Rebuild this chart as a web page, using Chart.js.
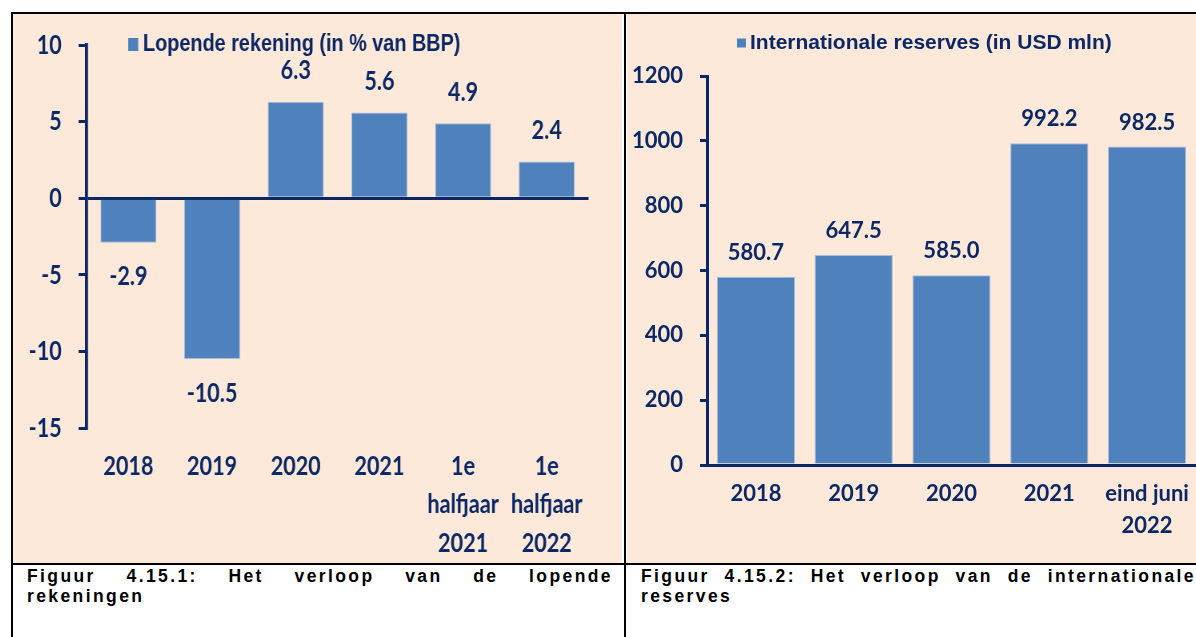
<!DOCTYPE html>
<html>
<head>
<meta charset="utf-8">
<script src="https://cdn.jsdelivr.net/npm/chart.js@4.4.1/dist/chart.umd.min.js"></script>
<style>
  html, body { margin:0; padding:0; background:#fff; width:1196px; height:637px; overflow:hidden; position:relative; }
  .ln { position:absolute; background:#000; }
  .panel { position:absolute; background:#FDE9D9; }
  .cap { position:absolute; font-family:"Liberation Sans", Arial, sans-serif; font-weight:bold; color:#000; line-height:20px; font-size:17.5px; letter-spacing:2.4px; }
  .cap .l1 { display:flex; justify-content:space-between; white-space:nowrap; }
</style>
</head>
<body>
<div class="panel" style="left:13px;top:14px;width:609px;height:549px"></div>
<div class="panel" style="left:627px;top:14px;width:600px;height:549px"></div>
<div class="ln" style="left:11px;top:12px;width:1200px;height:2px"></div>
<div class="ln" style="left:11px;top:12px;width:2px;height:630px"></div>
<div class="ln" style="left:624px;top:12px;width:2px;height:630px"></div>
<div class="ln" style="left:11px;top:563px;width:1200px;height:2px"></div>

<div style="position:absolute;left:13px;top:15px;width:761px;height:547px;transform:scaleX(0.8);transform-origin:0 0">
  <canvas id="c1" width="761" height="547"></canvas>
</div>
<div style="position:absolute;left:627px;top:15px;width:620px;height:547px">
  <canvas id="c2" width="620" height="547"></canvas>
</div>

<div class="cap" style="left:27px;top:566px;width:586px">
  <div class="l1"><span>Figuur</span><span>4.15.1:</span><span>Het</span><span>verloop</span><span>van</span><span>de</span><span>lopende</span></div>
  <div>rekeningen</div>
</div>
<div class="cap" style="left:641px;top:566px;width:555px">
  <div class="l1"><span>Figuur</span><span>4.15.2:</span><span>Het</span><span>verloop</span><span>van</span><span>de</span><span>internationale</span></div>
  <div>reserves</div>
</div>

<script>
// ---- data ----
const leftCategories = ['2018', '2019', '2020', '2021', ['1e', 'halfjaar', '2021'], ['1e', 'halfjaar', '2022']];
const leftValues = [-2.9, -10.5, 6.3, 5.6, 4.9, 2.4];
const leftSeriesName = 'Lopende rekening (in % van BBP)';
const leftYTicks = [-15, -10, -5, 0, 5, 10];

const rightCategories = ['2018', '2019', '2020', '2021', ['eind juni', '2022']];
const rightValues = [580.7, 647.5, 585.0, 992.2, 982.5];
const rightSeriesName = 'Internationale reserves (in USD mln)';
const rightYTicks = [0, 200, 400, 600, 800, 1000, 1200];

// ---- styles ----
const NAVY = '#0B2766';
const BAR = '#4F81BD';
const BAR_EDGE = '#A9BCDB';
const LATO = 'Lato, "Open Sans", sans-serif';
const ARIAL = '"Liberation Sans", Arial, sans-serif';

// value labels at the end of each bar, positioned from the bar elements
const valueLabels = {
  id: 'valueLabels',
  afterDatasetsDraw(chart, args, o) {
    const ctx = chart.ctx;
    const meta = chart.getDatasetMeta(0);
    const vals = chart.data.datasets[0].data;
    ctx.save();
    ctx.font = o.font;
    ctx.fillStyle = o.color;
    ctx.textAlign = 'center';
    ctx.textBaseline = 'middle';
    meta.data.forEach((bar, i) => {
      const v = vals[i];
      const y = v >= 0 ? bar.y - o.above : bar.y + o.below;
      ctx.fillText(v.toFixed(1), bar.x, y);
    });
    ctx.restore();
  }
};

// single-series legend (square + series name) drawn above the plot
const seriesLegend = {
  id: 'seriesLegend',
  afterDraw(chart, args, o) {
    const ds = chart.data.datasets[0];
    const ctx = chart.ctx;
    const x = chart.chartArea.left + o.dx;
    ctx.save();
    ctx.fillStyle = ds.backgroundColor;
    ctx.fillRect(x, o.y - o.boxH / 2, o.boxW, o.boxH);
    ctx.font = o.font;
    ctx.fillStyle = o.color;
    ctx.textAlign = 'left';
    ctx.textBaseline = 'middle';
    ctx.fillText(ds.label, x + o.boxW + o.gap, o.y);
    ctx.restore();
  }
};

const noScalePadding = s => { s.paddingTop = 0; s.paddingBottom = 0; };

// ---- left chart ----
new Chart(document.getElementById('c1'), {
  type: 'bar',
  data: {
    labels: leftCategories,
    datasets: [{
      label: leftSeriesName,
      data: leftValues,
      backgroundColor: BAR,
      borderColor: BAR_EDGE,
      borderWidth: 1,
      barPercentage: 0.67,
      categoryPercentage: 1
    }]
  },
  options: {
    responsive: false,
    animation: false,
    devicePixelRatio: 1,
    layout: { padding: { left: 0, right: 41.5, top: 30, bottom: 0 } },
    plugins: {
      legend: { display: false },
      tooltip: { enabled: false },
      valueLabels: { font: 'bold 27px ' + LATO, color: NAVY, above: 31, below: 34 },
      seriesLegend: { dx: 52, y: 29.5, boxW: 12.5, boxH: 13, gap: 6, color: NAVY,
                      font: 'bold 24.8px ' + ARIAL }
    },
    scales: {
      x: {
        grid: { display: false, drawTicks: false },
        border: { display: false },
        ticks: { color: NAVY, maxRotation: 0, autoSkip: false, padding: 18.75,
                 font: { family: LATO, weight: 'bold', size: 27, lineHeight: 1.426 } },
        afterFit: s => { s.height = 134; }
      },
      y: {
        min: leftYTicks[0], max: leftYTicks[leftYTicks.length - 1],
        afterBuildTicks: s => { s.ticks = leftYTicks.map(v => ({ value: v })); },
        ticks: { color: NAVY, padding: 21, callback: v => String(v),
                 font: { family: LATO, weight: 'bold', size: 27 } },
        grid: { color: c => (c.tick && c.tick.value === 0) ? NAVY : 'rgba(0,0,0,0)',
                tickColor: NAVY, lineWidth: 3, tickWidth: 3, tickLength: 10 },
        border: { color: NAVY, width: 3.75 },
        afterFit: s => { s.width = 92; noScalePadding(s); }
      }
    }
  },
  plugins: [valueLabels, seriesLegend]
});

// ---- right chart ----
new Chart(document.getElementById('c2'), {
  type: 'bar',
  data: {
    labels: rightCategories,
    datasets: [{
      label: rightSeriesName,
      data: rightValues,
      backgroundColor: BAR,
      borderColor: BAR_EDGE,
      borderWidth: 1,
      barPercentage: 0.8,
      categoryPercentage: 1
    }]
  },
  options: {
    responsive: false,
    animation: false,
    devicePixelRatio: 1,
    layout: { padding: { left: 0, right: 51, top: 61, bottom: 0 } },
    plugins: {
      legend: { display: false },
      tooltip: { enabled: false },
      valueLabels: { font: 'bold 22px ' + LATO, color: NAVY, above: 24, below: 24 },
      seriesLegend: { dx: 30, y: 28, boxW: 9, boxH: 9, gap: 4, color: NAVY,
                      font: 'bold 21px ' + ARIAL }
    },
    scales: {
      x: {
        grid: { display: false, drawTicks: false },
        border: { display: true, color: NAVY, width: 3 },
        ticks: { color: NAVY, maxRotation: 0, autoSkip: false, padding: 13,
                 font: { family: LATO, weight: 'bold', size: 22, lineHeight: 1.4545 } },
        afterFit: s => { s.height = 97; }
      },
      y: {
        min: rightYTicks[0], max: rightYTicks[rightYTicks.length - 1],
        afterBuildTicks: s => { s.ticks = rightYTicks.map(v => ({ value: v })); },
        ticks: { color: NAVY, padding: 17, callback: v => String(v),
                 font: { family: LATO, weight: 'bold', size: 22 } },
        grid: { drawOnChartArea: false, color: NAVY, tickColor: NAVY, lineWidth: 3, tickLength: 7 },
        border: { color: NAVY, width: 3 },
        afterFit: s => { s.width = 80; noScalePadding(s); }
      }
    }
  },
  plugins: [valueLabels, seriesLegend]
});
</script>
</body>
</html>
